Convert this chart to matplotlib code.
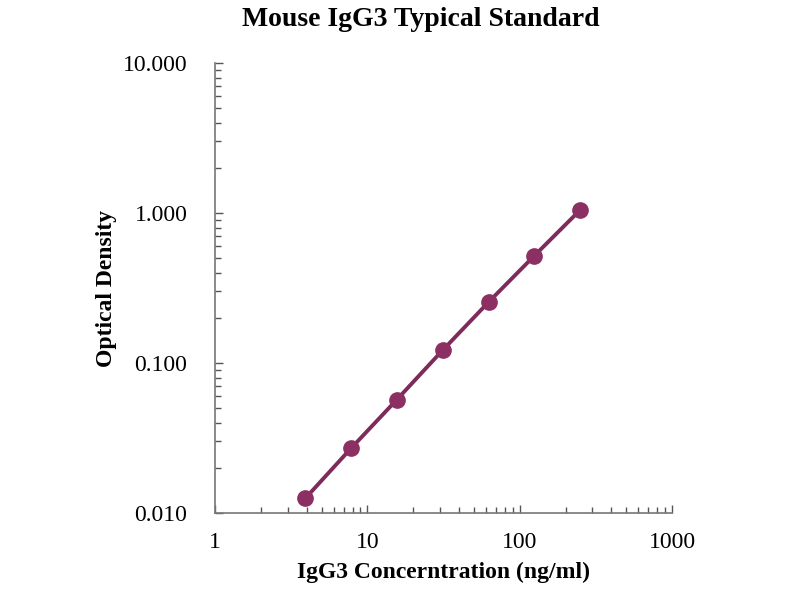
import matplotlib

matplotlib.use("Agg")
import matplotlib.pyplot as plt
from matplotlib.ticker import FixedLocator, LogLocator, NullFormatter

plt.rcParams["font.family"] = ["Liberation Serif", "DejaVu Serif"]

# Standard curve data
conc = [3.9, 7.8, 15.6, 31.25, 62.5, 125, 250]
od = [0.0125, 0.027, 0.057, 0.122, 0.255, 0.52, 1.05]

x_ticks = [1, 10, 100, 1000]
x_labels = ["1", "10", "100", "1000"]
y_ticks = [0.01, 0.1, 1, 10]
y_labels = ["0.010", "0.100", "1.000", "10.000"]

COL_LINE = "#7c2b5a"
COL_MARK = "#8c2f63"

fig = plt.figure(figsize=(8, 6), dpi=100)
ax = fig.add_axes([0.269, 0.145, 0.571, 0.750])

ax.plot(conc, od, color=COL_LINE, linewidth=2.8, zorder=2)
ax.plot(conc, od, "o", color=COL_MARK, markersize=11, zorder=3)

ax.set_xscale("log")
ax.set_yscale("log")
ax.set_xlim(1, 1000)
ax.set_ylim(0.01, 10)

ax.xaxis.set_major_locator(FixedLocator(x_ticks))
ax.set_xticklabels(x_labels)
ax.yaxis.set_major_locator(FixedLocator(y_ticks))
ax.set_yticklabels(y_labels)
ax.xaxis.set_minor_locator(LogLocator(base=10, subs=range(2, 10)))
ax.yaxis.set_minor_locator(LogLocator(base=10, subs=range(2, 10)))
ax.xaxis.set_minor_formatter(NullFormatter())
ax.yaxis.set_minor_formatter(NullFormatter())

ax.tick_params(which="major", direction="in", length=6, width=1, color="#555555",
               labelsize=17)
ax.tick_params(axis="y", which="major", pad=20)
ax.tick_params(axis="x", which="major", pad=14)
ax.tick_params(which="minor", direction="in", length=4, width=1, color="#555555")

for side in ("top", "right"):
    ax.spines[side].set_visible(False)
for side in ("left", "bottom"):
    ax.spines[side].set_color("#777777")
    ax.spines[side].set_linewidth(1.2)

ax.set_xlabel("IgG3 Concerntration (ng/ml)", fontsize=17, fontweight="bold", labelpad=6)
ax.set_ylabel("Optical Density", fontsize=17, fontweight="bold", labelpad=4)
fig.suptitle("Mouse IgG3 Typical Standard", fontsize=20, fontweight="bold",
             x=0.526, y=0.988)

fig.savefig("out.png", dpi=100)
